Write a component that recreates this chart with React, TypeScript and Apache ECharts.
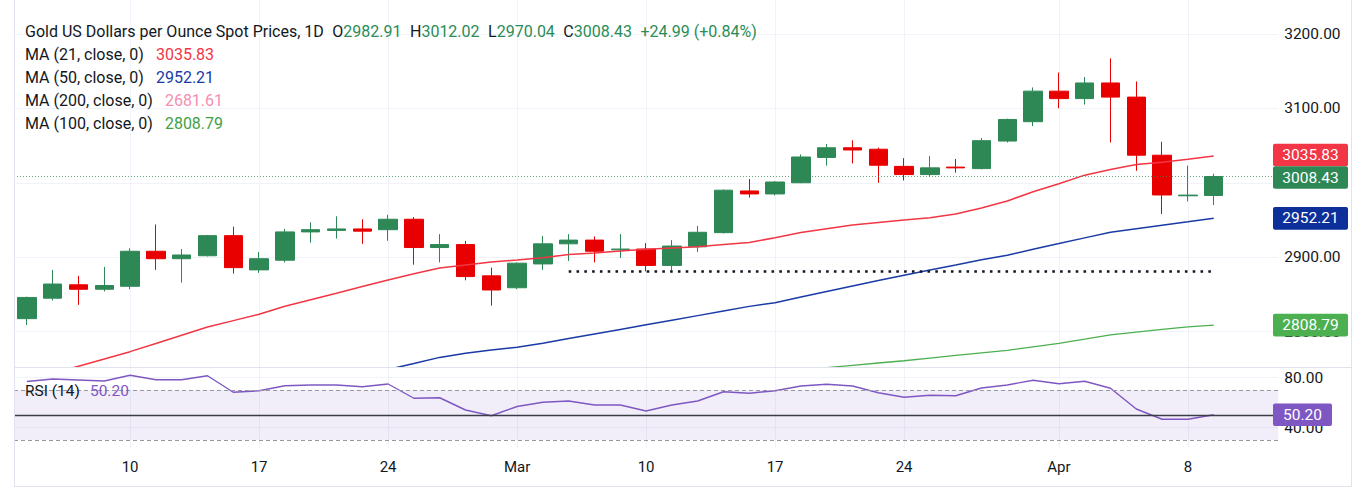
import React, { useEffect, useRef } from "react";
import * as echarts from "echarts";

// ---------- data ----------
const dates = [
  "2025-02-04", "2025-02-05", "2025-02-06", "2025-02-07",
  "2025-02-10", "2025-02-11", "2025-02-12", "2025-02-13", "2025-02-14",
  "2025-02-17", "2025-02-18", "2025-02-19", "2025-02-20", "2025-02-21",
  "2025-02-24", "2025-02-25", "2025-02-26", "2025-02-27", "2025-02-28",
  "2025-03-03", "2025-03-04", "2025-03-05", "2025-03-06", "2025-03-07",
  "2025-03-10", "2025-03-11", "2025-03-12", "2025-03-13", "2025-03-14",
  "2025-03-17", "2025-03-18", "2025-03-19", "2025-03-20", "2025-03-21",
  "2025-03-24", "2025-03-25", "2025-03-26", "2025-03-27", "2025-03-28",
  "2025-03-31", "2025-04-01", "2025-04-02", "2025-04-03", "2025-04-04",
  "2025-04-07", "2025-04-08", "2025-04-09",
];
// empty future sessions at the right edge of the chart
const futureDates = ["2025-04-10", "2025-04-11"];

const opens = [
  2817.5, 2845, 2863, 2857, 2861, 2908, 2898, 2902, 2929, 2883,
  2896, 2934, 2936, 2938, 2937, 2951, 2913, 2917, 2875, 2859,
  2891, 2918, 2923, 2910, 2911, 2889, 2914, 2933, 2989, 2985,
  3000, 3034, 3047, 3045, 3022, 3011, 3021, 3019, 3056, 3082,
  3123, 3113, 3134, 3115, 3037, 2982.5, 2982.91,
];
const highs = [
  2847, 2883, 2875, 2887, 2912, 2944, 2911, 2930, 2941, 2907,
  2938, 2947, 2955, 2951, 2957, 2954, 2931, 2922, 2886, 2893,
  2928.5, 2931, 2928, 2931, 2919, 2923, 2942, 2991, 3005, 3002,
  3038, 3052, 3057, 3047, 3033, 3036, 3032, 3060, 3086, 3128,
  3148, 3142, 3167, 3136, 3055, 3023, 3012.02,
];
const lows = [
  2809, 2842, 2836, 2854, 2857, 2883, 2866, 2901, 2878, 2879,
  2893, 2919.5, 2925, 2918, 2922, 2890, 2893, 2869, 2835, 2857,
  2883, 2895, 2893, 2899, 2881, 2882, 2907, 2932, 2980, 2983,
  2999.5, 3023, 3026, 3000, 3003, 3008, 3013.5, 3018, 3054, 3076,
  3100, 3105, 3054, 3016, 2958, 2975, 2970.04,
];
const closes = [
  2846, 2864, 2857, 2862, 2908, 2898, 2903, 2929, 2886, 2898,
  2934, 2937, 2938, 2935, 2951, 2913, 2917, 2874, 2856, 2892,
  2918, 2923, 2908, 2911, 2889, 2915, 2933.5, 2990, 2985, 3001,
  3034.6, 3047, 3044, 3023.5, 3011, 3020, 3020, 3056.5, 3085, 3123,
  3113, 3134, 3115, 3037, 2983.6, 2983.44, 3008.43,
];

const ma21 = [
  2734.2, 2743.9, 2753.7, 2763.4, 2773.2, 2784.2, 2795.2, 2806.2, 2814.9, 2823.5,
  2834.1, 2843.0, 2851.7, 2860.6, 2869.4, 2877.8, 2885.6, 2889.7, 2893.6, 2896.3,
  2899.2, 2903.8, 2905.7, 2908.2, 2910.7, 2912.3, 2914.0, 2917.0, 2919.8, 2926.2,
  2933.2, 2938.2, 2943.2, 2946.5, 2949.9, 2953.1, 2958.0, 2966.1, 2975.5, 2987.9,
  2998.6, 3010.2, 3017.8, 3024.5, 3027.5, 3031.5, 3035.83,
];
const ma50 = [
  null, null, null, null, null, null, null, null, null, null,
  null, null, null, 2742.0, 2749.3, 2757.2, 2765.5, 2771.1, 2775.5, 2779.1,
  2784.6, 2790.8, 2796.9, 2803.1, 2809.3, 2815.5, 2821.6, 2827.8, 2834.0, 2839.0,
  2846.6, 2853.9, 2861.3, 2868.7, 2875.9, 2882.9, 2889.7, 2896.7, 2902.7, 2910.7,
  2918.3, 2926.0, 2933.6, 2938.2, 2942.9, 2947.5, 2952.21,
];
const ma100 = [
  null, null, null, null, null, null, null, null, null, null,
  null, null, null, null, null, null, null, null, null, null,
  null, null, null, null, null, null, null, null, null, 2745.0,
  2748.5, 2751.8, 2754.9, 2758.0, 2761.0, 2764.6, 2768.2, 2771.6, 2775.0, 2779.6,
  2784.2, 2789.9, 2795.7, 2799.4, 2803.0, 2806.6, 2808.79,
];
const ma200Last = 2681.61;

const rsi = [
  76.8, 78.8, 78.0, 77.2, 81.8, 78.2, 78.2, 81.4, 68.2, 69.4,
  73.4, 74.0, 74.0, 72.6, 74.8, 63.4, 63.8, 54.0, 49.4, 56.8,
  60.2, 61.2, 58.0, 58.0, 53.2, 58.0, 61.2, 68.6, 67.4, 69.4,
  73.2, 74.6, 73.2, 67.8, 64.2, 65.8, 65.4, 71.6, 74.0, 77.8,
  75.0, 77.0, 71.4, 54.8, 46.6, 46.6, 50.2,
];

const tickDates = [
  "2025-02-10", "2025-02-17", "2025-02-24", "2025-03-03", "2025-03-10",
  "2025-03-17", "2025-03-24", "2025-04-01", "2025-04-08",
];
const tickTexts = ["10", "17", "24", "Mar", "10", "17", "24", "Apr", "8"];

const priceTicks = [2800, 2900, 3000, 3100, 3200];
const priceLabels = [2800, 2900, 3100, 3200];
const rsiTicks = [40, 80];

const supportLevel = 2880.9;
const supportFrom = "2025-03-05";
const supportTo = "2025-04-09";

// ---------- styles ----------
const FONT = "Roboto";
const TEXT = "#131722";
const UP = "#2e8856";
const DOWN = "#e80000";
const C_MA21 = "#f23645";
const C_MA50 = "#1a3aa5";
const C_MA100 = "#4caf50";
const C_MA200 = "#f48fb1";
const C_RSI = "#7e57c2";
const GRID = "#f0f3fa";
const BORDER = "#e0e3eb";

const cats = [...dates, ...futureDates];
const last = dates.length - 1;

const GL = 14;
const GW = 25.8 * cats.length;
const MAIN_TOP = 0;
const MAIN_H = 367;
const RSI_TOP = 367;
const RSI_H = 81;

const isTick = (_i: number, v: string) => tickDates.indexOf(v) >= 0;

function buildOption(): any {
  const xBase = (gridIndex: number, showLabels: boolean) => ({
    type: "category",
    gridIndex,
    data: cats,
    boundaryGap: true,
    axisLine: { show: false },
    axisTick: { show: false },
    axisPointer: { show: false },
    axisLabel: {
      show: showLabels,
      interval: isTick,
      formatter: (v: string) => {
        const k = tickDates.indexOf(v);
        return k >= 0 ? tickTexts[k] : "";
      },
      color: TEXT,
      fontFamily: FONT,
      fontSize: 15,
      margin: 11,
    },
    splitLine: {
      show: true,
      interval: isTick,
      alignWithLabel: true,
      lineStyle: { color: GRID, width: 1 },
    },
  });

  return {
    animation: false,
    backgroundColor: "#ffffff",
    grid: [
      { left: GL, top: MAIN_TOP, width: GW, height: MAIN_H },
      { left: GL, top: RSI_TOP, width: GW, height: RSI_H },
    ],
    xAxis: [xBase(0, false), xBase(1, true)],
    yAxis: [
      {
        type: "value",
        gridIndex: 0,
        position: "right",
        min: 2752.6,
        max: 3245.4,
        axisLine: { show: false },
        axisTick: { show: false, customValues: priceTicks },
        axisLabel: {
          customValues: priceLabels,
          formatter: (v: number) => v.toFixed(2),
          color: TEXT,
          fontFamily: FONT,
          fontSize: 15.5,
          margin: 6,
        },
        splitLine: { show: true, lineStyle: { color: GRID, width: 1 } },
      },
      {
        type: "value",
        gridIndex: 1,
        position: "right",
        min: 23.6,
        max: 88.4,
        axisLine: { show: false },
        axisTick: { show: false, customValues: rsiTicks },
        axisLabel: {
          customValues: rsiTicks,
          formatter: (v: number) => v.toFixed(2),
          color: TEXT,
          fontFamily: FONT,
          fontSize: 15.5,
          margin: 6,
        },
        splitLine: { show: true, lineStyle: { color: GRID, width: 1 } },
      },
    ],
    series: [
      {
        name: "Gold",
        type: "candlestick",
        xAxisIndex: 0,
        yAxisIndex: 0,
        barWidth: 19,
        data: dates.map((_, i) => [opens[i], closes[i], lows[i], highs[i]]),
        itemStyle: {
          color: UP,
          color0: DOWN,
          borderColor: UP,
          borderColor0: DOWN,
          borderWidth: 1,
        },
        markLine: {
          silent: true,
          symbol: "none",
          label: { show: false },
          data: [
            [
              {
                coord: [supportFrom, supportLevel],
                lineStyle: { color: "#131722", width: 2.6, type: [2.6, 5.2] },
              },
              { coord: [supportTo, supportLevel] },
            ],
            {
              yAxis: closes[last],
              lineStyle: { color: UP, opacity: 0.75, width: 1, type: [1, 2] },
            },
          ],
        },
      },
      {
        name: "MA21",
        type: "line",
        xAxisIndex: 0,
        yAxisIndex: 0,
        data: ma21,
        showSymbol: false,
        lineStyle: { color: C_MA21, width: 1.5 },
        z: 3,
      },
      {
        name: "MA50",
        type: "line",
        xAxisIndex: 0,
        yAxisIndex: 0,
        data: ma50,
        showSymbol: false,
        lineStyle: { color: C_MA50, width: 1.5 },
        z: 3,
      },
      {
        name: "MA100",
        type: "line",
        xAxisIndex: 0,
        yAxisIndex: 0,
        data: ma100,
        showSymbol: false,
        lineStyle: { color: C_MA100, width: 1.3 },
        z: 3,
      },
      {
        name: "RSI",
        type: "line",
        xAxisIndex: 1,
        yAxisIndex: 1,
        data: rsi,
        showSymbol: false,
        lineStyle: { color: C_RSI, width: 1.4 },
        z: 3,
        markArea: {
          silent: true,
          itemStyle: { color: "rgba(126,87,194,0.1)" },
          data: [[{ yAxis: 30 }, { yAxis: 70 }]],
        },
        markLine: {
          silent: true,
          symbol: "none",
          label: { show: false },
          data: [
            { yAxis: 70, lineStyle: { color: "#9598a1", width: 1, type: [4, 3] } },
            { yAxis: 30, lineStyle: { color: "#9598a1", width: 1, type: [4, 3] } },
            { yAxis: 50, lineStyle: { color: "#3a3d45", width: 1.4, type: "solid" } },
          ],
        },
      },
    ],
  };
}

function buildGraphics(chart: any): any[] {
  const els: any[] = [];
  const Z = 100;
  const textEl = (text: string, x: number, y: number, rich: any, size: number) => ({
    type: "text",
    z: Z,
    silent: true,
    style: {
      text,
      x,
      y,
      fill: TEXT,
      fontFamily: FONT,
      fontSize: size,
      align: "left",
      verticalAlign: "middle",
      textAlign: "left",
      textVerticalAlign: "middle",
      rich,
    },
  });
  const rich = (size: number, gap: number) => ({
    t: { fill: TEXT, fontFamily: FONT, fontSize: size },
    g: { fill: "#2a8c56", fontFamily: FONT, fontSize: size },
    r: { fill: C_MA21, fontFamily: FONT, fontSize: size },
    b: { fill: C_MA50, fontFamily: FONT, fontSize: size },
    p: { fill: C_MA200, fontFamily: FONT, fontSize: size },
    m: { fill: "#43a047", fontFamily: FONT, fontSize: size },
    v: { fill: C_RSI, fontFamily: FONT, fontSize: size },
    s: { width: gap, fontSize: size },
  });

  // frame
  const line = (x1: number, y1: number, x2: number, y2: number, c = BORDER) => ({
    type: "line",
    z: Z - 1,
    silent: true,
    shape: { x1, y1, x2, y2 },
    style: { stroke: c, lineWidth: 1 },
  });
  els.push(line(14.5, 0, 14.5, 486.5));
  els.push(line(1351.5, 0, 1351.5, 486.5));
  els.push(line(14.5, 486.5, 1351.5, 486.5));
  els.push(line(14.5, 367.5, 1351.5, 367.5));

  // legend
  const o = opens[last], h = highs[last], l = lows[last], c = closes[last];
  const prev = closes[last - 1];
  const chg = c - prev;
  const pct = (chg / prev) * 100;
  const sign = chg >= 0 ? "+" : "";
  const R = rich(16, 8.5);
  const S = "{s| }";
  els.push(
    textEl(
      `{t|Gold US Dollars per Ounce Spot Prices, 1D}${S}{t|O}{g|${o.toFixed(2)}}${S}{t|H}{g|${h.toFixed(2)}}${S}{t|L}{g|${l.toFixed(2)}}${S}{t|C}{g|${c.toFixed(2)}}${S}{g|${sign}${chg.toFixed(2)} (${sign}${pct.toFixed(2)}%)}`,
      25, 31, R, 16
    )
  );
  const R2 = rich(16, 12);
  els.push(textEl(`{t|MA (21, close, 0)}${S}{r|${ma21[last].toFixed(2)}}`, 25, 54, R2, 16));
  els.push(textEl(`{t|MA (50, close, 0)}${S}{b|${(ma50[last] as number).toFixed(2)}}`, 25, 77.3, R2, 16));
  els.push(textEl(`{t|MA (200, close, 0)}${S}{p|${ma200Last.toFixed(2)}}`, 25, 100.6, R2, 16));
  els.push(textEl(`{t|MA (100, close, 0)}${S}{m|${(ma100[last] as number).toFixed(2)}}`, 25, 123.9, R2, 16));
  const R3 = rich(15.5, 10);
  els.push(textEl(`{t|RSI (14)}${S}{v|${rsi[last].toFixed(2)}}`, 25, 391, R3, 15.5));

  // price badges
  const H = 22.6;
  const badges = [
    { v: ma21[last], color: C_MA21 },
    { v: closes[last], color: UP },
    { v: ma50[last] as number, color: "#0d2f9a" },
    { v: ma100[last] as number, color: C_MA100 },
  ].map((b) => ({ ...b, y: chart.convertToPixel({ yAxisIndex: 0 }, b.v) as number }));
  badges.sort((a, b) => a.y - b.y);
  for (let k = 0; k < badges.length - 1; k++) {
    const d = badges[k + 1].y - badges[k].y;
    if (d < H) {
      const push = (H - d) / 2;
      badges[k].y -= push;
      badges[k + 1].y += push;
    }
  }
  const badge = (text: string, y: number, color: string, w: number) => {
    els.push({
      type: "rect",
      z: Z,
      silent: true,
      shape: { x: 1273, y: y - H / 2, width: w, height: H, r: 2 },
      style: { fill: color },
    });
    els.push({
      type: "text",
      z: Z + 1,
      silent: true,
      style: {
        text,
        x: 1273 + w / 2,
        y,
        fill: "#ffffff",
        fontFamily: FONT,
        fontSize: 15.5,
        align: "center",
        verticalAlign: "middle",
        textAlign: "center",
        textVerticalAlign: "middle",
      },
    });
  };
  badges.forEach((b) => badge(b.v.toFixed(2), b.y, b.color, 75));
  const ry = chart.convertToPixel({ yAxisIndex: 1 }, rsi[last]) as number;
  badge(rsi[last].toFixed(2), ry, C_RSI, 59);

  return els;
}

export default function App() {
  const ref = useRef<HTMLDivElement>(null);
  useEffect(() => {
    if (!ref.current) return;
    const chart = echarts.init(ref.current, null, { renderer: "svg" });
    chart.setOption(buildOption());
    chart.setOption({ graphic: buildGraphics(chart) });
    return () => {
      chart.dispose();
    };
  }, []);
  return (
    <div
      ref={ref}
      style={{
        position: "fixed",
        left: 0,
        top: 0,
        width: 1365,
        height: 501,
        background: "#ffffff",
      }}
    />
  );
}
